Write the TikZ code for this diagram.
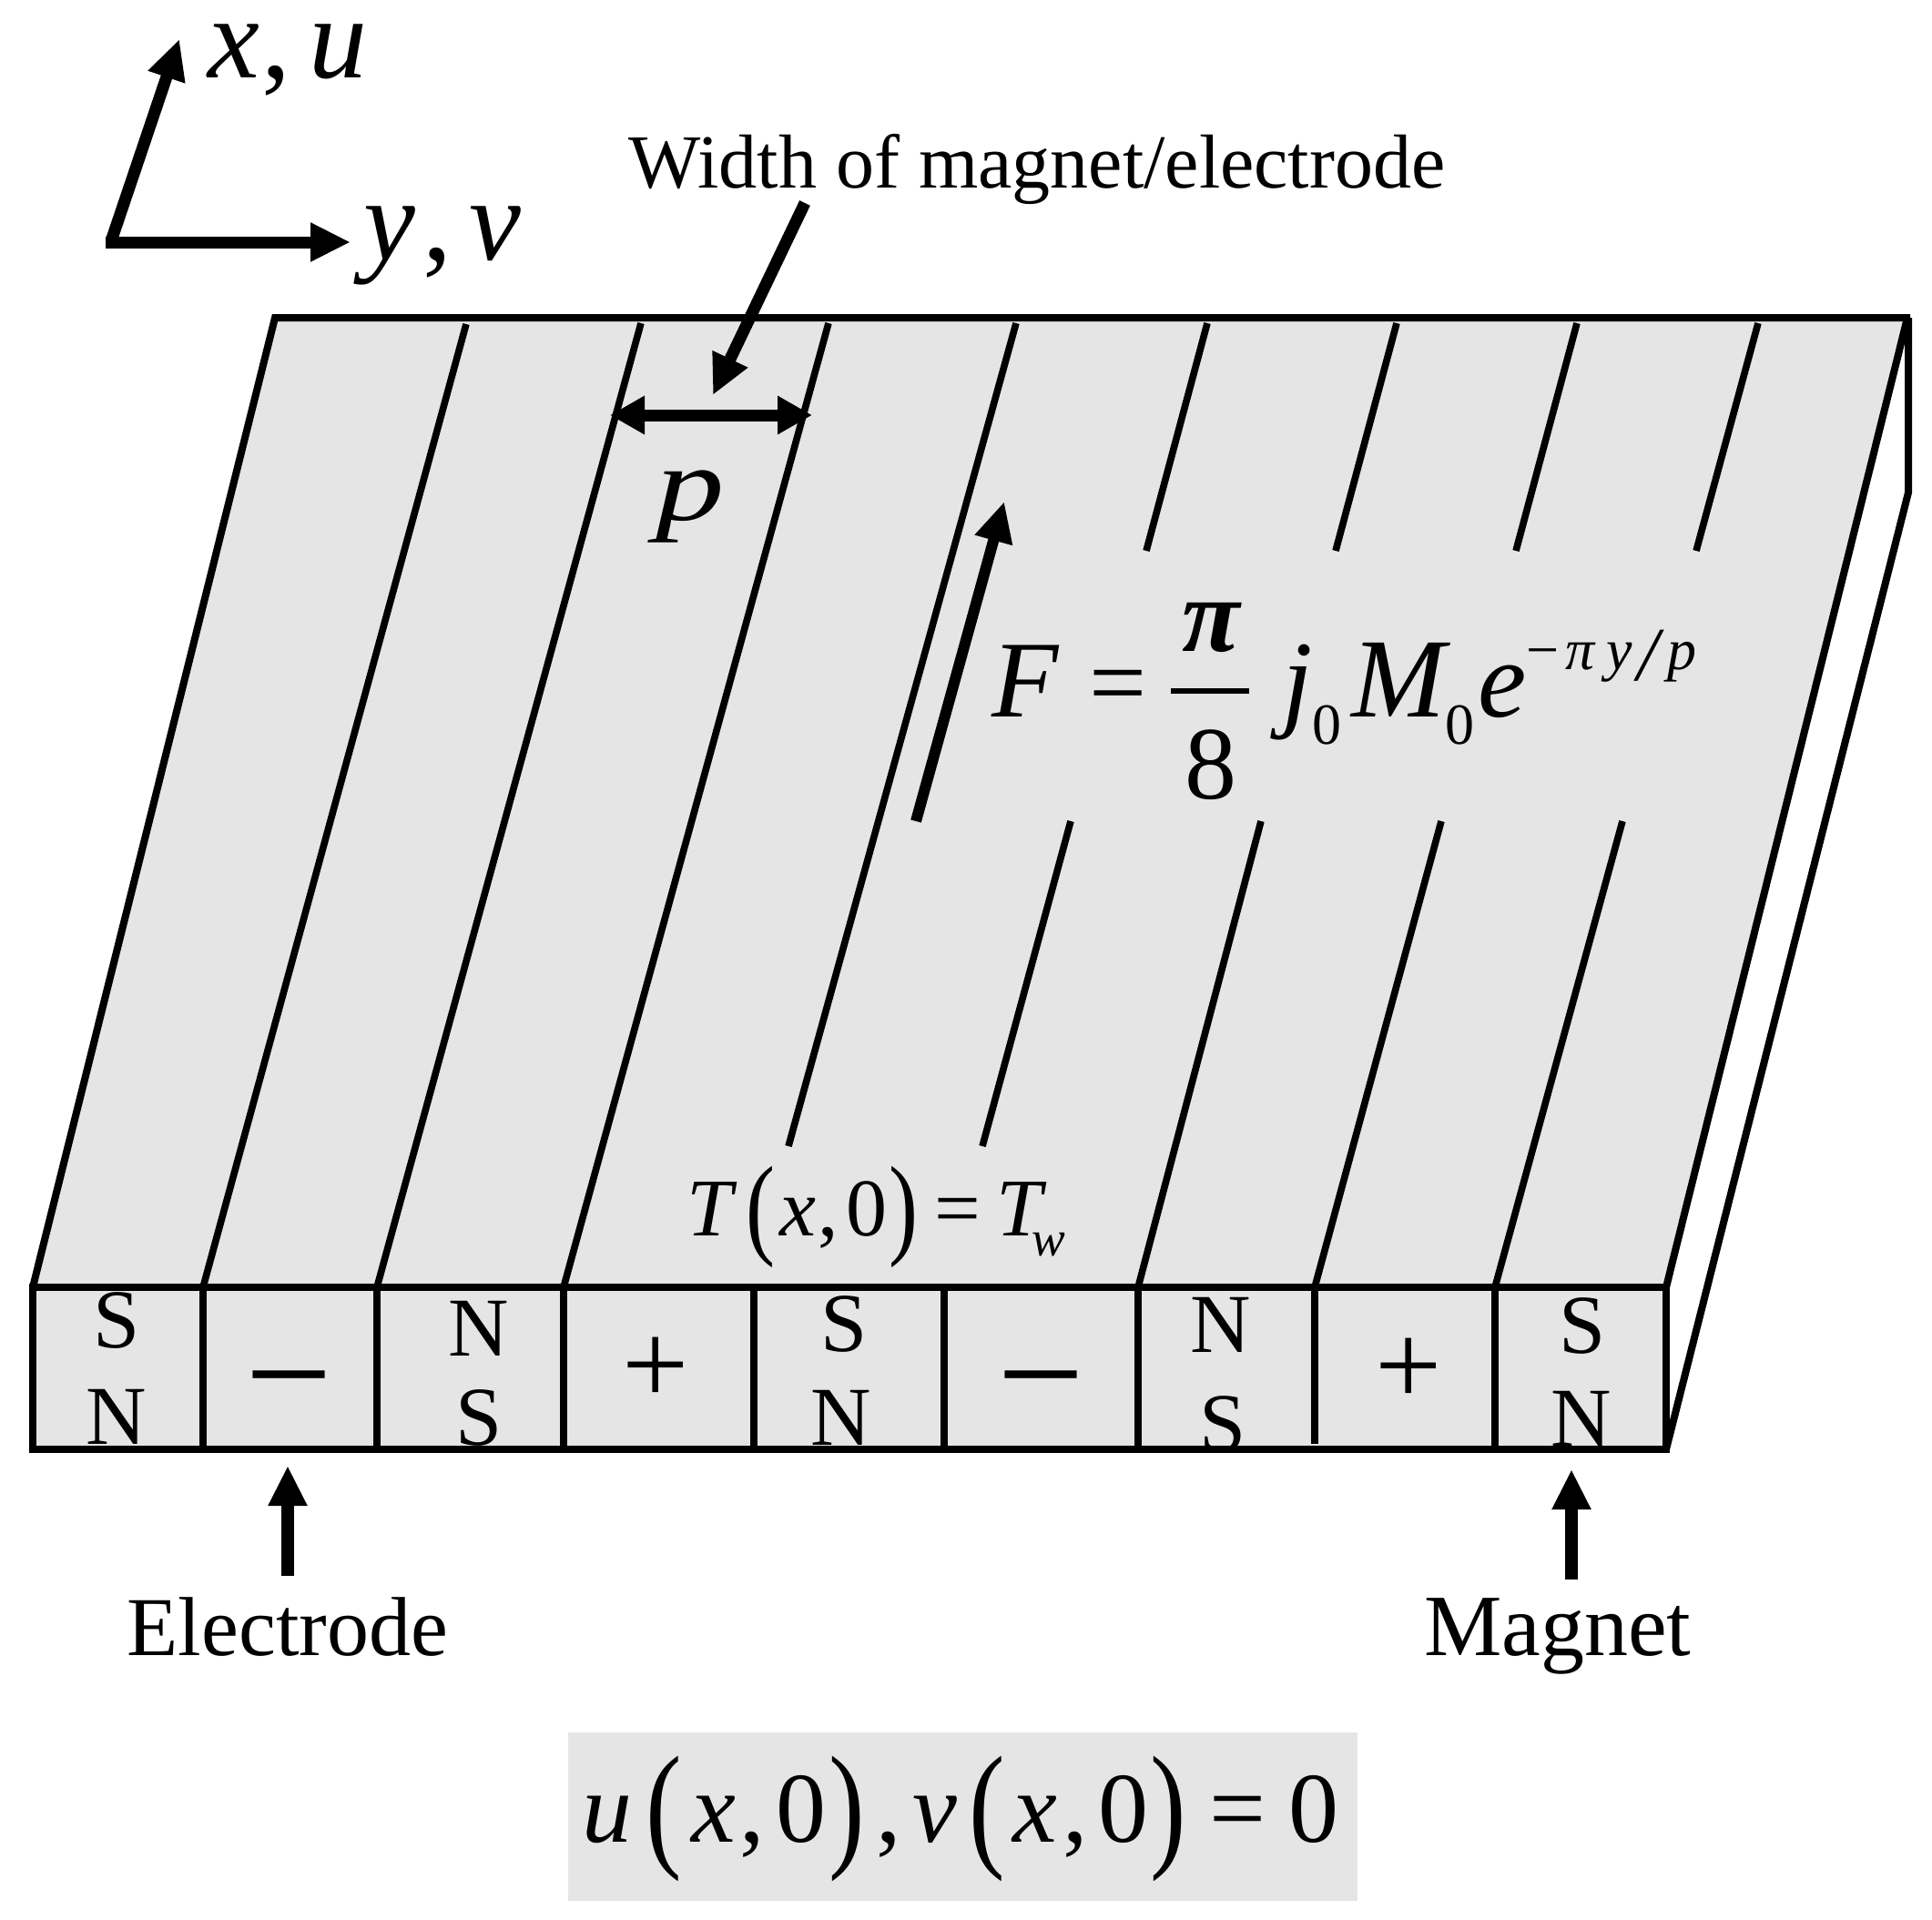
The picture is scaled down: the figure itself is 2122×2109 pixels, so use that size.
\documentclass[tikz,border=0pt]{standalone}
\usepackage{fontspec}
\usepackage{graphicx}
\setmainfont{Liberation Serif}
\usetikzlibrary{arrows.meta}
\definecolor{platefill}{HTML}{E5E5E5}
\newdimen\pxu \pxu=0.5pt
\newcommand\fs[1]{\fontsize{#1}{#1}\selectfont}
% glyph at absolute x (px), dropped by y (px), inside one text node
\newcommand\gl[3]{\rlap{\kern#1\pxu\raisebox{\dimexpr-#2\pxu\relax}{\hbox to 0pt{\hss#3\hss}}}}
\newcommand\mi[2]{{\fs{#1}\itshape #2}}
\newcommand\mr[2]{{\fs{#1}#2}}
\newcommand\tparen[2]{{\fs{#1}\scalebox{0.78}[1]{#2}}}
\tikzset{
  x=0.5pt,y=-0.5pt,
  line/.style={line width=4pt,draw=black,line join=miter},
  stripe/.style={line width=3.8pt,draw=black},
  t/.style={anchor=base,inner sep=0pt,outer sep=0pt},
  arr/.style={line width=#1,draw=black,-{Triangle[length=22pt,width=20pt]}},
  arr/.default=6.5pt
}
\begin{document}
\begin{tikzpicture}
\useasboundingbox (0,0) rectangle (2122,2109);
% plate and side
\fill[platefill] (302,349) -- (2095,349) -- (1830,1414) -- (1830,1592) -- (36,1592) -- (36,1414) -- cycle;
\fill[platefill] (624,1903) rectangle (1491,2088);
% stripes
\draw[stripe] (223,1414) -- (512,356);
\draw[stripe] (414,1414) -- (704,355);
\draw[stripe] (619,1414) -- (910,355);
\draw[stripe] (866,1259) -- (1116,355);
\draw[stripe] (1326,355) -- (1259,605);
\draw[stripe] (1176,902) -- (1079,1259);
\draw[stripe] (1534,355) -- (1467,605);
\draw[stripe] (1385,902) -- (1250,1414);
\draw[stripe] (1732,355) -- (1665,605);
\draw[stripe] (1583,902) -- (1444,1414);
\draw[stripe] (1931,355) -- (1863,605);
\draw[stripe] (1782,902) -- (1642,1414);
% cell dividers
\foreach \cx in {223,414,619,828,1037,1250,1642} \draw[stripe] (\cx,1414) -- (\cx,1592);
\draw[stripe] (1444,1414) -- (1444,1586);
% outlines
\draw[line] (36,1414) -- (302,349) -- (2098,349);
\draw[line] (2095,349) -- (1830,1414);
\draw[line] (2096,349) -- (2096,541) -- (1830,1592);
\draw[line,line width=4.2pt] (36,1414) rectangle (1830,1592);
% arrows
\coordinate (oh) at (116,266);
\coordinate (yt) at (385,266);
\coordinate (ov) at (123,262);
\coordinate (xt) at (197,43);
\draw[arr] (oh) -- (yt);
\draw[arr] (ov) -- (xt);
\coordinate (wa) at (884,223);
\coordinate (wb) at (783,434);
\draw[arr] (wa) -- (wb);
\coordinate (pa) at (670,456);
\coordinate (pb) at (892,456);
\draw[line width=6.5pt,{Triangle[length=19pt,width=20pt]}-{Triangle[length=19pt,width=20pt]}] (pa) -- (pb);
\coordinate (fa) at (1006,902);
\coordinate (fb) at (1103,551);
\draw[arr=6pt] (fa) -- (fb);
\coordinate (ea) at (316,1731);
\coordinate (eb) at (316,1610);
\draw[arr=7pt] (ea) -- (eb);
\coordinate (ma) at (1726,1735);
\coordinate (mb) at (1726,1614);
\draw[arr=7pt] (ma) -- (mb);
% fraction bar
\draw[line width=3pt] (1286,758.5) -- (1372,758.5);
% labels
\node[t] (lxu) at (0,85) {\gl{257}{0}{\mi{64}{x}}\gl{304}{0}{\mr{64}{,}}\gl{372}{0}{\mi{64}{u}}};
\node[t] (lyv) at (0,285) {\gl{428}{0}{\mi{64}{y}}\gl{481}{0}{\mr{64}{,}}\gl{544}{0}{\mi{64}{v}}};
\node[t,font=\fs{42}] (lw) at (1139,206) {Width of magnet/electrode};
\node[t] (lp) at (758,571) {{\fs{58}\itshape\scalebox{1.3}[1]{p}}};
\node[t] (lf) at (0,787) {\gl{1126}{0}{\mi{60}{F}}\gl{1228}{0}{\mr{56}{=}}\gl{1330}{-72}{{\fs{58}\bfseries\itshape π}}\gl{1330}{90}{\mr{57}{8}}\gl{1425}{0}{\mi{60}{j}}\gl{1458}{30}{\mr{32}{0}}\gl{1536}{0}{\mi{62}{M}}\gl{1604}{30}{\mr{32}{0}}\gl{1650}{0}{\mi{60}{e}}\gl{1695}{-52}{\mr{32}{−}}\gl{1736}{-52}{\mi{32}{π}}\gl{1779}{-52}{\mi{32}{y}}\gl{1810}{-40}{\mi{42}{/}}\gl{1848}{-52}{\mi{32}{p}}};
\node[t] (lt) at (0,1357) {\gl{780}{0}{\mi{45}{T}}\gl{835}{9}{\tparen{61.5}{(}}\gl{876}{0}{\mi{45}{x}}\gl{910}{0}{\mr{45}{,}}\gl{952}{0}{\mr{45}{0}}\gl{992}{9}{\tparen{61.5}{)}}\gl{1052}{0}{\mr{45}{=}}\gl{1120}{0}{\mi{45}{T}}\gl{1152}{22}{\mi{27.5}{w}}};
% cell letters
\tikzset{pole/.style={t,font=\fs{46}},sign/.style={t,font=\fs{85}},plus/.style={t,font=\fs{65}}}
\node[pole] (s1) at (128,1480) {S};
\node[pole] (n1) at (128,1586) {N};
\node[sign] (m1) at (317,1566) {−};
\node[pole] (n2) at (526,1489) {N};
\node[pole] (s2) at (526,1587) {S};
\node[plus] (p1) at (720,1542) {+};
\node[pole] (s3) at (927,1484) {S};
\node[pole] (n3) at (924,1587) {N};
\node[sign] (m2) at (1143,1566) {−};
\node[pole] (n4) at (1341,1485) {N};
\node[pole] (s4) at (1343,1594) {S};
\node[plus] (p2) at (1547,1543) {+};
\node[pole] (s5) at (1738,1486) {S};
\node[pole] (n5) at (1737,1588) {N};
\node[t,font=\fs{46}] (le) at (316,1818) {Electrode};
\node[t,font=\fs{48}] (lm) at (1711,1818) {Magnet};
\node[t] (lb) at (0,2023) {\gl{667}{0}{\mi{55}{u}}\gl{729}{11.5}{\tparen{76}{(}}\gl{784}{0}{\mi{55}{x}}\gl{826}{0}{\mr{55}{,}}\gl{880}{0}{\mr{55}{0}}\gl{930}{11.5}{\tparen{76}{)}}\gl{976}{0}{\mr{55}{,}}\gl{1027}{0}{\mi{55}{v}}\gl{1084}{11.5}{\tparen{76}{(}}\gl{1137}{0}{\mi{55}{x}}\gl{1181}{0}{\mr{55}{,}}\gl{1234}{0}{\mr{55}{0}}\gl{1283}{11.5}{\tparen{76}{)}}\gl{1360}{0}{\mr{55}{=}}\gl{1443}{0}{\mr{55}{0}}};
\end{tikzpicture}
\end{document}
